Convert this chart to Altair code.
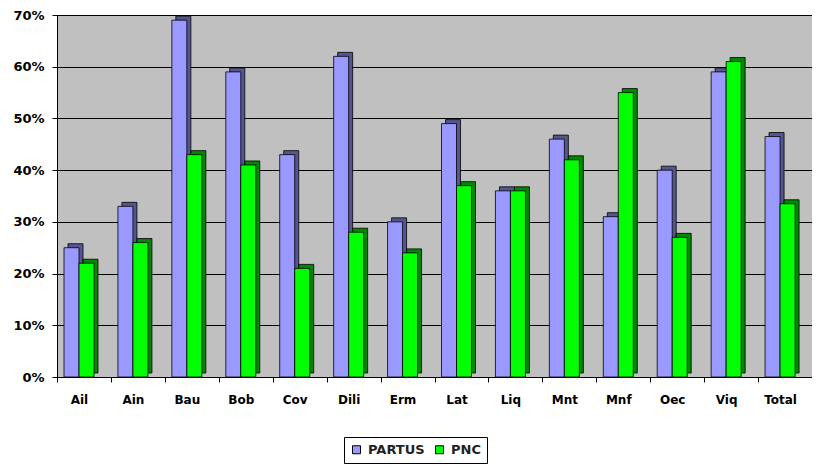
import altair as alt
import pandas as pd

categories = ["Ail", "Ain", "Bau", "Bob", "Cov", "Dili", "Erm", "Lat", "Liq", "Mnt", "Mnf", "Oec", "Viq", "Total"]
partus = [25, 33, 69, 59, 43, 62, 30, 49, 36, 46, 31, 40, 59, 46.5]
pnc = [22, 26, 43, 41, 21, 28, 24, 37, 36, 42, 55, 27, 61, 33.5]
series_names = ["PARTUS", "PNC"]
front_colors = ["#9999FF", "#00FF00"]
side_colors = ["#55558F", "#008800"]
y_ticks = [0, 0.1, 0.2, 0.3, 0.4, 0.5, 0.6, 0.7]

rows = []
for c, a, b in zip(categories, partus, pnc):
    rows.append({"cat": c, "series": "PARTUS", "value": a / 100})
    rows.append({"cat": c, "series": "PNC", "value": b / 100})
df = pd.DataFrame(rows)

FONT = "DejaVu Sans"

x_enc = alt.X(
    "cat:N",
    sort=categories,
    scale=alt.Scale(paddingInner=0, paddingOuter=0),
    axis=alt.Axis(
        title=None, labelAngle=0, tickBand="extent", tickOffset=-5, labelOffset=-5,
        grid=False, domainColor="black", tickColor="black", tickSize=5,
        labelPadding=12, labelFont=FONT, labelFontSize=12,
        labelFontWeight="bold", labelColor="black",
    ),
)
y_enc = alt.Y(
    "value:Q",
    scale=alt.Scale(domain=[0, 0.7], nice=False),
    axis=alt.Axis(
        title=None, format=".0%", values=y_ticks, grid=True,
        gridColor="black", gridOpacity=1, gridWidth=1,
        domainColor="black", tickColor="black", tickSize=5,
        labelPadding=8, labelFont=FONT, labelFontSize=13,
        labelFontWeight="bold", labelColor="black",
    ),
)

depth = alt.Chart(df).mark_bar(yOffset=-4, stroke="black", strokeWidth=0.8).encode(
    x=x_enc,
    y=y_enc,
    xOffset=alt.XOffset("series:N", sort=series_names, scale=alt.Scale(range=[11, 41])),
    color=alt.Color("series:N", sort=series_names,
                    scale=alt.Scale(domain=series_names, range=side_colors), legend=None),
)

front = alt.Chart(df).mark_bar(stroke="black", strokeWidth=0.8).encode(
    x=x_enc,
    y=y_enc,
    xOffset=alt.XOffset("series:N", sort=series_names, scale=alt.Scale(range=[7, 37])),
    color=alt.Color(
        "series:N", sort=series_names,
        scale=alt.Scale(domain=series_names, range=front_colors),
        legend=alt.Legend(
            title=None, orient="none", legendX=287, legendY=422,
            direction="horizontal", strokeColor="black", padding=6,
            symbolType="square", symbolSize=64, symbolStrokeColor="black",
            symbolStrokeWidth=1, labelFont=FONT, labelFontSize=13,
            labelFontWeight="bold", labelColor="#222222", columnPadding=8,
            labelOffset=5,
        ),
    ),
)

chart = (
    alt.layer(depth, front)
    .resolve_scale(xOffset="independent", color="independent")
    .properties(
        width=755, height=362,
        autosize=alt.AutoSizeParams(type="none"),
        padding={"left": 49, "top": 7, "right": 0, "bottom": 90},
        background="white",
    )
    .configure_view(fill="#C0C0C0", stroke="#999999", strokeWidth=1)
)

chart.save("out.html", embed_options={"renderer": "svg", "actions": False})
